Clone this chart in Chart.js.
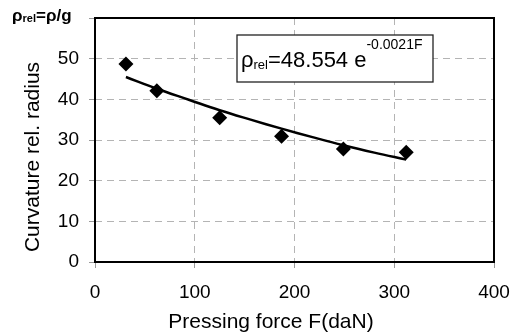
<!DOCTYPE html>
<html>
<head>
<meta charset="utf-8">
<script src="https://cdn.jsdelivr.net/npm/chart.js@4.4.0/dist/chart.umd.min.js"></script>
<style>
  html, body { margin:0; padding:0; background:#fff; }
  #wrap { width:513px; height:335px; position:relative; }
</style>
</head>
<body>
<div id="wrap"><canvas id="chart" width="513" height="335"></canvas></div>
<script>
// ===== DATA =====
const force = [31, 62, 125, 187, 249, 312];
const radius = [48.7, 42.1, 35.5, 30.9, 27.8, 27.0];

// trend line
const trendForce = [31, 62, 94, 125, 156, 187, 218, 249, 280, 312];
const trendRadius = [45.5, 42.6, 39.9, 37.3, 35.0, 32.8, 30.7, 28.7, 26.9, 25.2];

const xTicks = [0, 100, 200, 300, 400];
const yTicks = [0, 10, 20, 30, 40, 50];

const xTitle = "Pressing force F(daN)";
const yTitle = "Curvature rel. radius";

const FONT = "'Liberation Sans', Arial, sans-serif";

// ===== PLUGINS =====
const frame = {
  id: "frame",
  afterDatasetsDraw(c){
    const a = c.chartArea, ctx = c.ctx;
    ctx.save();
    ctx.strokeStyle = "#000";
    ctx.lineWidth = 2;
    ctx.strokeRect(a.left, a.top, a.right - a.left, a.bottom - a.top);
    ctx.restore();
  }
};

const labels = {
  id: "labels",
  afterDraw(c){
    const ctx = c.ctx;
    ctx.save();
    ctx.fillStyle = "#000";
    ctx.textBaseline = "alphabetic";

    // top left  ρrel=ρ/g
    let x = 12, y = 21;
    ctx.font = "bold 17px " + FONT;
    ctx.fillText("ρ", x, y); x += ctx.measureText("ρ").width;
    ctx.font = "bold 11px " + FONT;
    ctx.fillText("rel", x, y + 1); x += ctx.measureText("rel").width;
    ctx.font = "bold 17px " + FONT;
    ctx.fillText("=ρ/g", x, y);

    // equation box
    ctx.fillStyle = "#fff";
    ctx.fillRect(237, 35, 196, 47);
    ctx.strokeStyle = "#222";
    ctx.lineWidth = 1.3;
    ctx.strokeRect(237, 35, 196, 47);
    ctx.fillStyle = "#000";
    x = 241; y = 67;
    ctx.font = "22px " + FONT;
    ctx.fillText("ρ", x, y); x += ctx.measureText("ρ").width;
    ctx.font = "13px " + FONT;
    ctx.fillText("rel", x, y + 2); x += ctx.measureText("rel").width;
    ctx.font = "22px " + FONT;
    ctx.fillText("=48.554 e", x, y); x += ctx.measureText("=48.554 e").width;
    ctx.font = "14px " + FONT;
    ctx.fillText("-0.0021F", x, y - 18);

    // axis titles
    ctx.font = "21px " + FONT;
    ctx.textAlign = "center";
    ctx.textBaseline = "middle";
    ctx.fillText(xTitle, 271, 322);
    ctx.translate(33, 157);
    ctx.rotate(-Math.PI / 2);
    ctx.fillText(yTitle, 0, 0);
    ctx.restore();
  }
};

// ===== CHART =====
const ctx = document.getElementById("chart").getContext("2d");

const gridOpts = { color: "#b4b4b4", tickLength: 6, tickColor: "#999", tickBorderDash: [] };

new Chart(ctx, {
  type: "scatter",
  data: {
    datasets: [
      {
        label: "trend",
        data: trendForce.map((f, i) => ({x: f, y: trendRadius[i]})),
        showLine: true,
        borderColor: "#000",
        borderWidth: 2.5,
        pointRadius: 0,
        tension: 0.4,
        fill: false
      },
      {
        label: "measured",
        data: force.map((f, i) => ({x: f, y: radius[i]})),
        pointStyle: "rectRot",
        pointRadius: 7.5,
        backgroundColor: "#000",
        borderColor: "#000",
        borderWidth: 0
      }
    ]
  },
  options: {
    responsive: false,
    animation: false,
    devicePixelRatio: 1,
    layout: { padding: { left: 0, right: 19, top: 18, bottom: 0 } },
    plugins: { legend: { display: false }, tooltip: { enabled: false } },
    scales: {
      x: {
        type: "linear",
        min: 0, max: 400,
        afterBuildTicks: s => { s.ticks = xTicks.map(v => ({value: v})); },
        afterFit: s => { s.height = 73; s.paddingLeft = 0; s.paddingRight = 0; },
        ticks: { color: "#000", font: { family: FONT, size: 19 }, padding: 13 },
        grid: gridOpts,
        border: { display: false, dash: [7, 5] }
      },
      y: {
        min: 0, max: 60,
        afterBuildTicks: s => { s.ticks = yTicks.concat([60]).map(v => ({value: v})); },
        afterFit: s => { s.width = 95; s.paddingTop = 0; s.paddingBottom = 0; },
        ticks: { color: "#000", font: { family: FONT, size: 19 }, padding: 10, callback: v => v === 60 ? "" : v },
        grid: gridOpts,
        border: { display: false, dash: [7, 5] }
      }
    }
  },
  plugins: [frame, labels]
});
</script>
</body>
</html>
